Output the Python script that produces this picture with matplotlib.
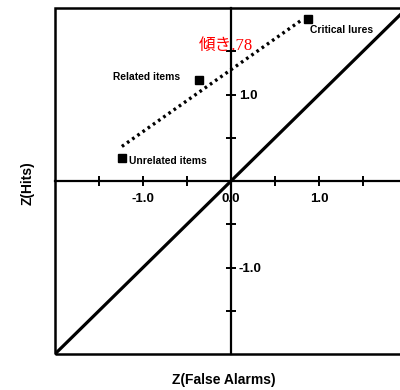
import matplotlib
matplotlib.use('Agg')
import matplotlib.pyplot as plt
from matplotlib.patches import Rectangle

# item types: z(false alarms), z(hits)
labels = ["Unrelated items", "Related items", "Critical lures"]
z_fa = [-1.24, -0.36, 0.875]
z_hits = [0.27, 1.17, 1.875]

# fitted line (slope .78)
fit_x = [-1.24, 0.80]
fit_y = [0.40, 1.86]

# chance diagonal
diag = [-2.0, 2.0]

xticks = [-1.5, -1.0, -0.5, 0.0, 0.5, 1.0, 1.5]
xticklabels = ["", "-1.0", "", "0.0", "", "1.0", ""]
yticks = [-1.5, -1.0, -0.5, 0.5, 1.0, 1.5]
yticklabels = ["", "-1.0", "", "", "1.0", ""]

plt.rcParams['font.family'] = ['Liberation Sans', 'DejaVu Sans']

fig = plt.figure(figsize=(4, 3.9), dpi=100)
ax = fig.add_axes([0.1375, 0.0923, 0.88, 0.887])
ax.set_xlim(-2, 2)
ax.set_ylim(-2, 2)

# axes through origin
for s in ['top', 'right']:
    ax.spines[s].set_visible(False)
ax.spines['left'].set_position(('data', 0))
ax.spines['bottom'].set_position(('data', 0))
ax.spines['left'].set_linewidth(1.6)
ax.spines['bottom'].set_linewidth(1.6)

# outer frame
ax.add_patch(Rectangle((0, 0), 1, 1, transform=ax.transAxes, fill=False,
                       lw=1.8, ec='black', clip_on=False, zorder=5))

ax.plot(diag, diag, color='black', lw=2.3, solid_capstyle='butt')
ax.plot(fit_x, fit_y, color='black', lw=2.4, linestyle=(0, (0.8, 1.1)))
ax.plot(z_fa, z_hits, 's', color='black', markersize=6)

ax.text(z_fa[0] + 0.08, z_hits[0] - 0.04, labels[0], fontsize=7.4,
        fontweight='bold', ha='left', va='center')
ax.text(z_fa[1] - 0.22, z_hits[1] + 0.03, labels[1], fontsize=7.4,
        fontweight='bold', ha='right', va='center')
ax.text(z_fa[2] + 0.02, z_hits[2] - 0.13, labels[2], fontsize=7.4,
        fontweight='bold', ha='left', va='center')

ax.text(-0.37, 1.56, "傾き.78", color='red', fontsize=12,
        family=['Liberation Serif', 'Noto Sans CJK JP'], ha='left', va='center')

ax.set_xticks(xticks)
ax.set_xticklabels(xticklabels, fontsize=9.5, fontweight='bold')
ax.set_yticks(yticks)
ax.set_yticklabels(yticklabels, fontsize=9.5, fontweight='bold')
ax.tick_params(axis='both', direction='inout', length=7, width=1.4)
ax.tick_params(axis='x', pad=5)
ax.tick_params(axis='y', pad=-9)
for t in ax.get_yticklabels():
    t.set_horizontalalignment('left')

fig.text(0.559, 0.026, "Z(False Alarms)", fontsize=10, fontweight='bold',
         ha='center', va='center')
fig.text(0.07, 0.531, "Z(Hits)", fontsize=10, fontweight='bold',
         rotation=90, ha='center', va='center')

plt.savefig('out.png', dpi=100)
plt.close()
